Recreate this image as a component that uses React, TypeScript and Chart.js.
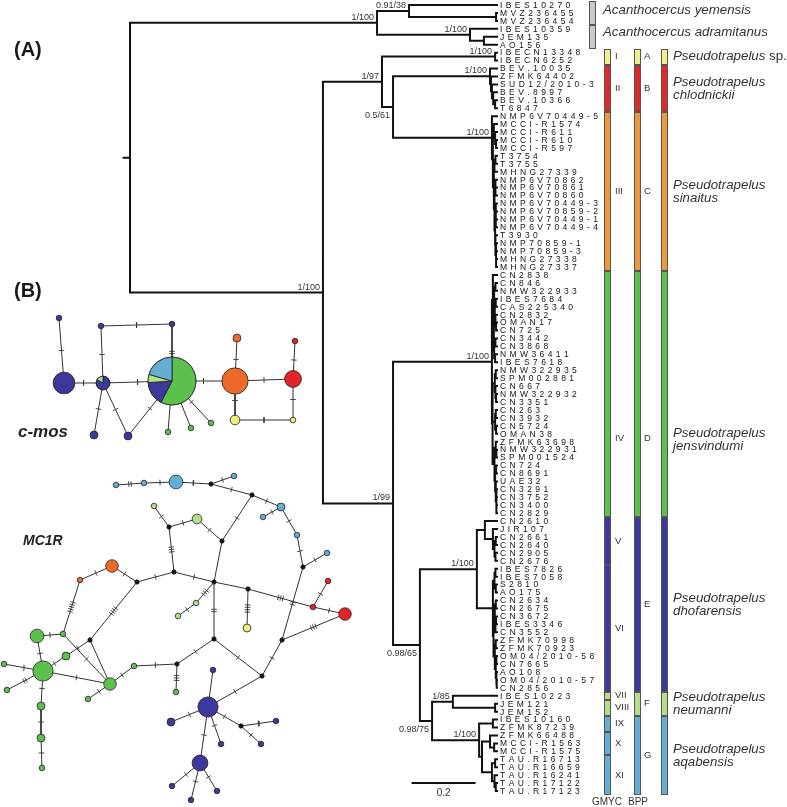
import React, { useEffect, useRef } from "react";
import { Chart, registerables } from "chart.js";
Chart.register(...registerables);

// ================= DATA =================
// Phylogeny (Newick fragments; branch lengths in substitutions/site)
const NWK_ACANTHOCERCUS =
  "((IBES10270:0.275,(MVZ236455:0.003,MVZ236454:0.003):0.272)0.91/38:0.1,(IBES10359:0.0845,(JEM135:0.041,AO156:0.041):0.0435)1/100:0.2905)1/100:0.772";
const NWK_SP = "(IBECN13348:0.006,IBECN6252:0.006)1/100:0.3535";
const NWK_CHLODNICKII =
  "(BEV.10035:0.022,(ZFMK64402:0.019,(SUD12/2010-3:0.016,(BEV.8997:0.012,(BEV.10366:0.006,T6847:0.006):0.006):0.004):0.003):0.003)1/100:0.303";
const NWK_SINAITUS =
  "(NMP6V70449-5:0.016,((MCCI-R1574:0.01,(MCCI-R611:0.006,(MCCI-R610:0.003,MCCI-R597:0.003):0.003):0.004):0.003,(((T3754:0.005,T3755:0.005):0.003,MHNG27339:0.008):0.002,((NMP6V70862:0.005,NMP6V70861:0.005,NMP6V70860:0.005):0.003,((NMP6V70449-3:0.004,NMP6V70859-2:0.004,NMP6V70449-1:0.004,NMP6V70449-4:0.004):0.002,(T3930:0.005,(NMP70859-1:0.003,NMP70859-3:0.003,MHNG27338:0.003,MHNG27337:0.003):0.002):0.001):0.002):0.002):0.003):0.003)1/100:0.309";
const NWK_JENSVINDUMI =
  "((CN2838:0.013,(((CN846:0.005,NMW322933:0.005):0.004,((IBES7684:0.004,CAS225340:0.004):0.003,(CN2832:0.005,(OMAN17:0.003,CN725:0.003):0.002):0.002):0.002):0.001,((CN3442:0.005,CN3868:0.005):0.004,(NMW36411:0.006,IBES7618:0.006):0.003):0.001):0.003):0.003,(((NMW322935:0.004,SPM002881:0.004):0.003,(CN667:0.005,(NMW322932:0.003,CN3351:0.003):0.002):0.002):0.007,((CN263:0.004,CN3932:0.004):0.002,(CN5724:0.003,OMAN38:0.003):0.003):0.008,((ZFMK63698:0.004,(NMW322931:0.002,SPM001524:0.002):0.002):0.004,((CN724:0.003,CN8691:0.003):0.003,(UAE32:0.004,(CN3291:0.002,CN3752:0.002,CN3400:0.002,CN2829:0.002):0.002):0.002):0.002):0.006):0.002)1/100:0.309";
const NWK_DHOFARENSIS =
  "((CN2610:0.038,(JIR107:0.013,((CN2661:0.004,CN2640:0.004):0.004,(CN2905:0.005,CN2676:0.005):0.003):0.005):0.025):0.025,(((IBES7826:0.005,IBES7058:0.005):0.003,(S2810:0.004,AO175:0.004):0.004):0.005,(((CN2634:0.004,CN2675:0.004):0.003,((CN3672:0.003,IBES3346:0.003):0.002,CN3552:0.005):0.002):0.004,((ZFMK70998:0.004,ZFMK70923:0.004):0.003,((OM04/2010-58:0.002,CN7665:0.002):0.002,(AO108:0.002,(OM04/2010-57:0.001,CN2856:0.001):0.001):0.002):0.003):0.004):0.002):0.05)1/100:0.178";
const NWK_NEUMANNI = "(IBES10223:0.138,(JEM121:0.006,JEM152:0.006):0.132)1/85:0.065";
const NWK_AQABENSIS =
  "((IBES10160:0.013,ZFMK87239:0.013):0.043,((ZFMK66488:0.022,(MCCI-R1563:0.009,MCCI-R1575:0.009):0.013):0.025,((TAU.R16713:0.006,TAU.R16659:0.006):0.01,(TAU.R16241:0.008,(TAU.R17122:0.004,TAU.R17123:0.004):0.004):0.008):0.031):0.009)1/100:0.147";
const NWK_TREE = `(${NWK_ACANTHOCERCUS},((${NWK_SP},(${NWK_CHLODNICKII},${NWK_SINAITUS})0.5/61:0.0345)1/97:0.1845,(${NWK_JENSVINDUMI},(${NWK_DHOFARENSIS},(${NWK_NEUMANNI},${NWK_AQABENSIS})0.98/75:0.038)0.98/65:0.084)1/99:0.219)1/100:0.603):0.02;`;

const SCALE_BAR_LENGTH = 0.2;

// Delimitation columns (tip index ranges)
const GMYC_LABELS = ["I", "II", "III", "IV", "V", "VI", "VII", "VIII", "IX", "X", "XI"];
const GMYC_FIRST = [6, 8, 14, 34, 65, 71, 87, 88, 90, 92, 95];
const GMYC_LAST = [7, 13, 33, 64, 70, 86, 87, 89, 91, 94, 99];
const GMYC_CLADE = ["sp", "chl", "sin", "jen", "dho", "dho", "neu", "neu", "aqa", "aqa", "aqa"];

const BPP_LABELS = ["A", "B", "C", "D", "E", "F", "G"];
const BPP_FIRST = [6, 8, 14, 34, 65, 87, 90];
const BPP_LAST = [7, 13, 33, 64, 86, 89, 99];
const BPP_CLADE = ["sp", "chl", "sin", "jen", "dho", "neu", "aqa"];

const OUT_SPECIES = ["yemensis", "adramitanus"];
const OUT_FIRST = [0, 3];
const OUT_LAST = [2, 5];

const SPECIES_EPITHET = ["sp.", "chlodnickii", "sinaitus", "jensvindumi", "dhofarensis", "neumanni", "aqabensis"];

// Haplotype networks: haplotype frequencies per lineage (empty = median vector)
const CMOS_COUNTS: Record<string, number>[] = [
  { dho: 1 }, { dho: 15 }, { dho: 5, neu: 1 }, { dho: 1 }, { dho: 1 },
  { jen: 42, dho: 12, neu: 4, aqa: 15 }, { dho: 2 }, { dho: 2 }, { jen: 1 }, { jen: 1 }, { jen: 1 },
  { sin: 22 }, { sin: 2 }, { chl: 9 }, { chl: 1 }, { sp: 3 }, { sp: 1 },
];
const CMOS_EDGES = [
  [0, 1, 1], [1, 2, 1], [2, 3, 1], [3, 4, 1], [4, 5, 2], [2, 5, 1], [2, 6, 1], [2, 7, 1], [7, 5, 1],
  [5, 8, 0], [5, 9, 0], [5, 10, 1], [5, 11, 1], [11, 12, 1], [11, 13, 1], [13, 14, 1], [11, 15, 1], [15, 16, 1], [16, 13, 1],
];
const MC1R_COUNTS: Record<string, number>[] = [
  { aqa: 1 }, { aqa: 1 }, { aqa: 6 }, {}, { aqa: 1 }, {}, { aqa: 2 }, { aqa: 1 }, { aqa: 1 }, {}, { aqa: 1 },
  { chl: 1 }, { chl: 1 }, { chl: 5 }, {}, {}, {}, {}, {}, { sp: 2 }, {}, { neu: 3 }, {}, { neu: 1 }, {}, {},
  { sin: 5 }, { sin: 1 }, { neu: 1 }, { neu: 1 }, { jen: 6 }, { jen: 1 }, {}, { jen: 2 }, { jen: 13 }, { jen: 1 },
  { jen: 1 }, { jen: 2 }, { jen: 2 }, { jen: 1 }, { jen: 5 }, { jen: 1 }, { jen: 1 }, {}, { jen: 1 },
  { dho: 13 }, { dho: 1 }, { dho: 2 }, { dho: 1 }, {}, { dho: 1 }, { dho: 1 }, { dho: 8 }, { dho: 1 }, { dho: 1 }, { dho: 1 },
];
const MC1R_EDGES = [
  [0, 1, 2], [1, 2, 1], [2, 3, 1], [3, 4, 1], [3, 5, 1], [5, 6, 1], [6, 7, 1], [6, 8, 1], [8, 9, 1], [9, 10, 1],
  [5, 20, 1], [20, 21, 1], [21, 22, 1], [22, 23, 1], [22, 24, 3], [24, 25, 1], [24, 17, 1], [17, 20, 0], [17, 18, 0],
  [18, 19, 4], [18, 11, 3], [11, 12, 1], [11, 13, 1], [9, 14, 2], [14, 13, 3], [14, 15, 1], [15, 16, 1], [15, 45, 1],
  [16, 17, 2], [16, 43, 1], [17, 28, 3], [28, 29, 1], [43, 42, 1], [43, 44, 3], [42, 40, 1], [25, 26, 1], [25, 32, 4],
  [26, 27, 1], [27, 31, 5], [31, 30, 1], [30, 34, 1], [31, 40, 1], [32, 40, 0], [32, 33, 1], [33, 34, 1], [34, 40, 1],
  [34, 35, 1], [34, 36, 2], [34, 37, 1], [37, 38, 1], [38, 39, 1], [40, 41, 1], [45, 46, 0], [45, 47, 1], [45, 48, 1],
  [45, 49, 1], [49, 50, 1], [49, 51, 1], [45, 52, 1], [52, 53, 1], [52, 54, 1], [52, 55, 1],
];

// ================= LAYOUT / STYLE =================
const W = 787, H = 807;
const PX_PER_UNIT = 320, ROOT_PX = 130;
const TIP0_PX = 5, TIP_STEP = 7.94;
const FONT = '"Liberation Sans", Arial, Helvetica, sans-serif';
const CLADE_COLOR: Record<string, string> = {
  out: "#c9c9c9", sp: "#f3ee8d", chl: "#dc2a2b", sin: "#eb993b", jen: "#5cc14c", dho: "#3b3a9c", neu: "#b3de8a", aqa: "#63add6",
};
const NET_COLOR: Record<string, string> = { ...CLADE_COLOR, sin: "#ee6a2a", sp: "#f1ee7c", chl: "#e32427" };
const SUPPORT_BELOW = ["0.5/61", "0.98/65", "0.98/75"];
const LABEL_TIP: Record<string, number> = { IV: 54.6, D: 54.6, jensvindumi: 54.8, yemensis: 0.7, adramitanus: 3.4 };
const CMOS_POS = [
  [59, 318], [64, 383], [103, 383], [101, 326], [172, 324], [172, 381], [94, 435], [128, 436], [168, 432], [191, 428], [211, 423],
  [235, 381], [237, 338], [293, 379], [295, 341], [235, 420], [293, 420],
];
const MC1R_POS = [
  [116, 485], [144, 483], [176, 482], [211, 484], [234, 476], [252, 495], [281, 507], [263, 517], [297, 535], [303, 567], [327, 553],
  [313, 607], [328, 581], [345, 614], [282, 640], [262, 676], [214, 639], [214, 582], [248, 589], [247, 628], [222, 541], [197, 519],
  [169, 527], [154, 506], [174, 572], [137, 582], [112, 566], [80, 580], [196, 603], [178, 616], [37, 636], [63, 634], [90, 640],
  [66, 656], [43, 671], [4, 664], [7, 690], [41, 706], [41, 738], [42, 768], [110, 684], [88, 699], [134, 666], [177, 664],
  [176, 692], [208, 707], [213, 670], [171, 722], [221, 744], [241, 726], [276, 721], [261, 744], [200, 763], [172, 786],
  [217, 791], [191, 800],
];

// ================= TREE HELPERS =================
type TNode = { name: string; len: number; children: TNode[]; depth: number; y: number };
function parseNewick(src: string): TNode {
  let i = 0;
  const stop = "(),:;";
  const label = () => {
    const s = i;
    while (i < src.length && !stop.includes(src[i])) i++;
    return src.slice(s, i).trim();
  };
  const node = (): TNode => {
    const n: TNode = { name: "", len: 0, children: [], depth: 0, y: 0 };
    if (src[i] === "(") {
      i++;
      n.children.push(node());
      while (src[i] === ",") {
        i++;
        n.children.push(node());
      }
      if (src[i] !== ")") throw new Error("Newick parse error at " + i);
      i++;
    }
    n.name = label();
    if (src[i] === ":") {
      i++;
      n.len = parseFloat(label());
    }
    return n;
  };
  return node();
}
const TREE = parseNewick(NWK_TREE);
const LEAVES: TNode[] = [];
const INTERNALS: TNode[] = [];
(function walk(n: TNode, d: number) {
  n.depth = d;
  if (!n.children.length) {
    n.y = LEAVES.length;
    LEAVES.push(n);
  } else {
    n.children.forEach((c) => walk(c, d + c.len));
    n.y = (n.children[0].y + n.children[n.children.length - 1].y) / 2;
    INTERNALS.push(n);
  }
})(TREE, 0);
const MAX_DEPTH = Math.max(...LEAVES.map((l) => l.depth));

function treeSegments() {
  const pts: { x: number; y: number }[] = [];
  const seg = (x0: number, y0: number, x1: number, y1: number) => pts.push({ x: x0, y: y0 }, { x: x1, y: y1 }, { x: NaN, y: NaN });
  seg(-TREE.len, TREE.y, 0, TREE.y);
  const rec = (n: TNode) => {
    if (!n.children.length) return;
    seg(n.depth, n.children[0].y, n.depth, n.children[n.children.length - 1].y);
    n.children.forEach((c) => {
      seg(n.depth, c.y, c.depth, c.y);
      rec(c);
    });
  };
  rec(TREE);
  return pts;
}

const countTotal = (c: Record<string, number>) => Object.values(c).reduce((a, b) => a + b, 0);
const nodeRadius = (c: Record<string, number>) => {
  const t = countTotal(c);
  return t === 0 ? 2.2 : 2.8 * Math.sqrt(t);
};
function majorColor(c: Record<string, number>) {
  const keys = Object.keys(c);
  if (!keys.length) return "#111";
  return NET_COLOR[keys[0]];
}
function edgePoints(pos: number[][], edges: number[][]) {
  const pts: { x: number; y: number }[] = [];
  edges.forEach(([a, b]) => pts.push({ x: pos[a][0], y: pos[a][1] }, { x: pos[b][0], y: pos[b][1] }, { x: NaN, y: NaN }));
  return pts;
}
function tickPoints(pos: number[][], edges: number[][]) {
  const pts: { x: number; y: number }[] = [];
  edges.forEach(([a, b, k]) => {
    const [x0, y0] = pos[a], [x1, y1] = pos[b];
    const L = Math.hypot(x1 - x0, y1 - y0);
    const dx = (x1 - x0) / L, dy = (y1 - y0) / L;
    const nxv = -dy, nyv = dx;
    const mx = (x0 + x1) / 2, my = (y0 + y1) / 2;
    for (let j = 0; j < k; j++) {
      const off = (j - (k - 1) / 2) * 2.4;
      const cx = mx + dx * off, cy = my + dy * off;
      pts.push({ x: cx - nxv * 2.8, y: cy - nyv * 2.8 }, { x: cx + nxv * 2.8, y: cy + nyv * 2.8 }, { x: NaN, y: NaN });
    }
  });
  return pts;
}

function drawSpaced(ctx: CanvasRenderingContext2D, text: string, x: number, y: number, spacing: number) {
  let cx = x;
  for (const ch of text) {
    ctx.fillText(ch, cx, y);
    cx += ctx.measureText(ch).width + spacing;
  }
}

const annotatePlugin = {
  id: "annotate",
  afterDatasetsDraw(chart: any) {
    const ctx: CanvasRenderingContext2D = chart.ctx;
    const xs = chart.scales.x, ys = chart.scales.y, nxs = chart.scales.nx, nys = chart.scales.ny;
    ctx.save();

    // pies for mixed haplotypes
    const pies = (counts: Record<string, number>[], pos: number[][]) => {
      counts.forEach((c, i) => {
        const keys = Object.keys(c);
        if (keys.length < 2) return;
        const cx = nxs.getPixelForValue(pos[i][0]), cy = nys.getPixelForValue(pos[i][1]);
        const r = nodeRadius(c), tot = countTotal(c);
        let a = -Math.PI / 2;
        keys.forEach((k) => {
          const sw = (c[k] / tot) * Math.PI * 2;
          ctx.beginPath();
          ctx.moveTo(cx, cy);
          ctx.arc(cx, cy, r, a, a + sw);
          ctx.closePath();
          ctx.fillStyle = NET_COLOR[k];
          ctx.fill();
          ctx.strokeStyle = "#222";
          ctx.lineWidth = 0.8;
          ctx.stroke();
          a += sw;
        });
      });
    };
    pies(CMOS_COUNTS, CMOS_POS);
    pies(MC1R_COUNTS, MC1R_POS);

    // tip labels
    const tipX = xs.getPixelForValue(MAX_DEPTH) + 3;
    ctx.fillStyle = "#151515";
    ctx.font = `8.5px ${FONT}`;
    ctx.textBaseline = "middle";
    ctx.textAlign = "left";
    LEAVES.forEach((l) => drawSpaced(ctx, l.name, tipX, ys.getPixelForValue(l.y) + 0.5, 3.4));

    // support values
    ctx.font = `9px ${FONT}`;
    ctx.fillStyle = "#333";
    ctx.textAlign = "right";
    INTERNALS.forEach((n) => {
      if (!n.name) return;
      const x = xs.getPixelForValue(n.depth) - 3;
      const y = ys.getPixelForValue(n.y);
      if (SUPPORT_BELOW.includes(n.name)) {
        ctx.textBaseline = "top";
        ctx.fillText(n.name, x, y + 4);
      } else {
        ctx.textBaseline = "alphabetic";
        ctx.fillText(n.name, x, y - 3);
      }
    });

    // delimitation bars
    const cell = (x: number, w: number, first: number, last: number, color: string) => {
      const y0 = Math.round(ys.getPixelForValue(first - 0.5));
      const y1 = Math.round(ys.getPixelForValue(last + 0.5));
      ctx.fillStyle = color;
      ctx.fillRect(x, y0, w, y1 - y0);
      ctx.strokeStyle = "#555";
      ctx.lineWidth = 1;
      ctx.strokeRect(x + 0.5, y0 + 0.5, w - 1, y1 - y0 - 1);
    };
    const labelY = (key: string, first: number, last: number) =>
      ys.getPixelForValue(LABEL_TIP[key] !== undefined ? LABEL_TIP[key] : (first + last) / 2);

    OUT_SPECIES.forEach((_, i) => cell(589, 7, OUT_FIRST[i], OUT_LAST[i], CLADE_COLOR.out));
    GMYC_LABELS.forEach((_, i) => cell(604, 7, GMYC_FIRST[i], GMYC_LAST[i], CLADE_COLOR[GMYC_CLADE[i]]));
    BPP_LABELS.forEach((_, i) => cell(634, 7, BPP_FIRST[i], BPP_LAST[i], CLADE_COLOR[BPP_CLADE[i]]));
    BPP_LABELS.forEach((_, i) => cell(661, 7, BPP_FIRST[i], BPP_LAST[i], CLADE_COLOR[BPP_CLADE[i]]));

    ctx.fillStyle = "#333";
    ctx.font = `9.5px ${FONT}`;
    ctx.textAlign = "left";
    ctx.textBaseline = "middle";
    GMYC_LABELS.forEach((lab, i) => ctx.fillText(lab, 615, labelY(lab, GMYC_FIRST[i], GMYC_LAST[i])));
    BPP_LABELS.forEach((lab, i) => ctx.fillText(lab, 644, labelY(lab, BPP_FIRST[i], BPP_LAST[i])));

    ctx.font = `10px ${FONT}`;
    ctx.textAlign = "center";
    ctx.fillText("GMYC", 607, 802);
    ctx.fillText("BPP", 638, 802);

    // species names
    const it = `italic 13.3px ${FONT}`;
    ctx.textAlign = "left";
    OUT_SPECIES.forEach((sp, i) => {
      ctx.font = it;
      ctx.fillText(`Acanthocercus ${sp}`, 603, labelY(sp, OUT_FIRST[i], OUT_LAST[i]));
    });
    SPECIES_EPITHET.forEach((ep, i) => {
      const y = labelY(ep, BPP_FIRST[i], BPP_LAST[i]);
      ctx.font = it;
      if (ep === "sp.") {
        ctx.fillText("Pseudotrapelus", 673, y);
        const w = ctx.measureText("Pseudotrapelus ").width;
        ctx.font = `13.3px ${FONT}`;
        ctx.fillText("sp.", 673 + w, y);
      } else {
        ctx.fillText("Pseudotrapelus", 673, y - 6.5);
        ctx.fillText(ep, 673, y + 6.5);
      }
    });

    // scale bar label
    ctx.font = `10px ${FONT}`;
    ctx.textAlign = "center";
    ctx.fillStyle = "#333";
    ctx.fillText(String(SCALE_BAR_LENGTH), xs.getPixelForValue(0.88 + SCALE_BAR_LENGTH / 2), ys.getPixelForValue(99.3));

    // panel letters and network names
    ctx.fillStyle = "#1a1a1a";
    ctx.textAlign = "left";
    ctx.textBaseline = "alphabetic";
    ctx.font = `bold 20px ${FONT}`;
    ctx.fillText("(A)", 14, 56);
    ctx.fillText("(B)", 14, 297);
    ctx.fillStyle = "#222";
    ctx.font = `italic bold 17px ${FONT}`;
    ctx.fillText("c-mos", 18, 437);
    ctx.font = `italic bold 14px ${FONT}`;
    ctx.fillText("MC1R", 23, 545);
    ctx.restore();
  },
};

function netDatasets(counts: Record<string, number>[], pos: number[][], edges: number[][]) {
  return [
    {
      data: pos.map(([x, y]) => ({ x, y })),
      xAxisID: "nx",
      yAxisID: "ny",
      showLine: false,
      pointRadius: counts.map(nodeRadius),
      pointBackgroundColor: counts.map(majorColor),
      pointBorderColor: "#222",
      pointBorderWidth: 0.8,
      pointHoverRadius: counts.map(nodeRadius),
      clip: false,
      order: 1,
    },
    {
      data: tickPoints(pos, edges),
      xAxisID: "nx",
      yAxisID: "ny",
      showLine: true,
      borderColor: "#333",
      borderWidth: 0.9,
      pointRadius: 0,
      order: 3,
    },
    {
      data: edgePoints(pos, edges),
      xAxisID: "nx",
      yAxisID: "ny",
      showLine: true,
      borderColor: "#333",
      borderWidth: 1,
      pointRadius: 0,
      order: 4,
    },
  ];
}

export default function App() {
  const ref = useRef<HTMLCanvasElement>(null);
  useEffect(() => {
    document.body.style.margin = "0";
    const yMin = -TIP0_PX / TIP_STEP;
    const chart = new Chart(ref.current as HTMLCanvasElement, {
      type: "scatter",
      data: {
        datasets: [
          {
            data: treeSegments(),
            showLine: true,
            borderColor: "#111",
            borderWidth: 2,
            borderCapStyle: "square",
            pointRadius: 0,
            order: 5,
          } as any,
          {
            data: [
              { x: 0.88, y: 98 },
              { x: 0.88 + SCALE_BAR_LENGTH, y: 98 },
            ],
            showLine: true,
            borderColor: "#111",
            borderWidth: 2,
            pointRadius: 0,
            order: 5,
          } as any,
          ...(netDatasets(CMOS_COUNTS, CMOS_POS, CMOS_EDGES) as any[]),
          ...(netDatasets(MC1R_COUNTS, MC1R_POS, MC1R_EDGES) as any[]),
        ],
      },
      options: {
        animation: false,
        responsive: false,
        maintainAspectRatio: false,
        events: [],
        layout: { padding: 0, autoPadding: false },
        plugins: { legend: { display: false }, tooltip: { enabled: false }, title: { display: false } },
        scales: {
          x: { type: "linear", display: false, min: -ROOT_PX / PX_PER_UNIT, max: (W - ROOT_PX) / PX_PER_UNIT },
          y: { type: "linear", display: false, reverse: true, min: yMin, max: yMin + H / TIP_STEP },
          nx: { type: "linear", axis: "x", display: false, min: 0, max: W },
          ny: { type: "linear", axis: "y", display: false, reverse: true, min: 0, max: H },
        },
      } as any,
      plugins: [annotatePlugin],
    });
    return () => chart.destroy();
  }, []);
  return (
    <div style={{ width: W, height: H, position: "relative", background: "#fff" }}>
      <canvas ref={ref} width={W} height={H} style={{ display: "block", width: W, height: H }} />
    </div>
  );
}
